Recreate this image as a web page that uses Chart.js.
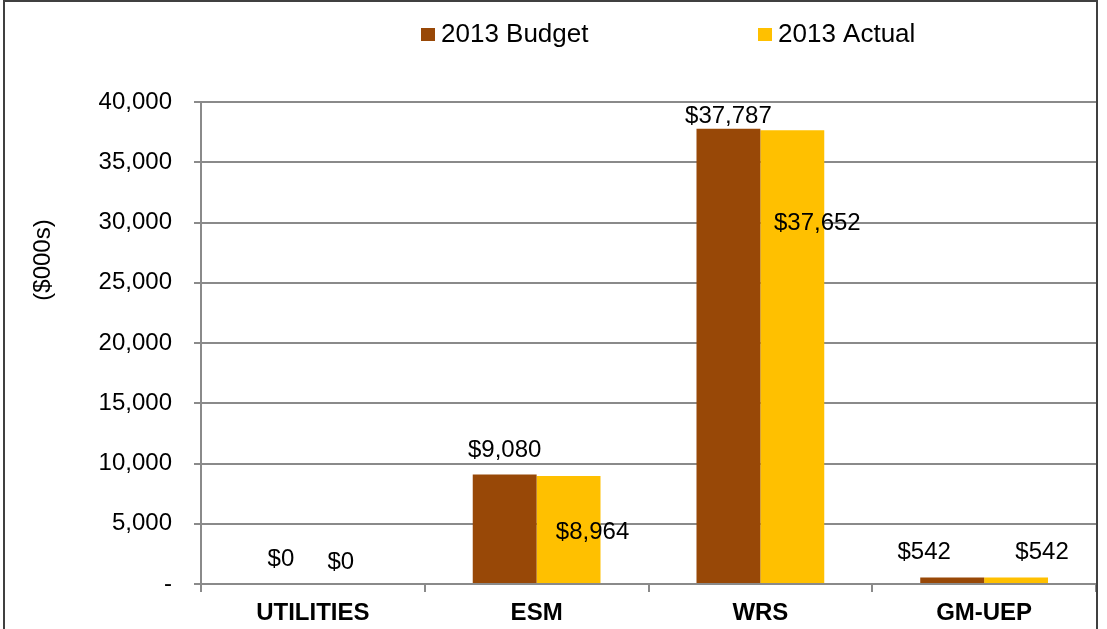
<!DOCTYPE html>
<html>
<head>
<meta charset="utf-8">
<script src="https://cdn.jsdelivr.net/npm/chart.js@4/dist/chart.umd.min.js"></script>
<style>
  html, body { margin: 0; padding: 0; background: #fff; }
  #wrap { width: 1107px; height: 629px; }
</style>
</head>
<body>
<div id="wrap"><canvas id="chart" width="1107" height="629"></canvas></div>
<script>
// chart values
var categories = ['UTILITIES', 'ESM', 'WRS', 'GM-UEP'];
var budget2013 = [0, 9080, 37787, 542];
var actual2013 = [0, 8964, 37652, 542];
var yTicks = [0, 5000, 10000, 15000, 20000, 25000, 30000, 35000, 40000];

// where each value label sits, relative to the top centre of its bar
var budgetLabelShift = [[0, -25], [0, -24], [0, -12], [-28, -25]];
var actualLabelShift = [[-4, -22], [24, 56], [25, 93], [26, -25]];

var FONT = "'Liberation Sans', Arial, sans-serif";
var GRID = '#8a8a8a';

function money(v) {
    return '$' + v.toLocaleString('en-US');
}

// value labels
var valueLabels = {
    id: 'valueLabels',
    afterDatasetsDraw: function(chart) {
        var ctx = chart.ctx;
        var shifts = [budgetLabelShift, actualLabelShift];
        ctx.save();
        ctx.font = '24px ' + FONT;
        ctx.fillStyle = '#000';
        ctx.textAlign = 'center';
        ctx.textBaseline = 'middle';
        chart.data.datasets.forEach(function(ds, i) {
            chart.getDatasetMeta(i).data.forEach(function(bar, j) {
                var s = shifts[i][j];
                ctx.fillText(money(ds.data[j]), bar.x + s[0], bar.y + s[1]);
            });
        });
        ctx.restore();
    }
};

// legend, y title and outer frame
var decorations = {
    id: 'decorations',
    afterDraw: function(chart) {
        var ctx = chart.ctx;
        ctx.save();

        // legend
        var items = [{ x: 421 }, { x: 758 }];
        ctx.font = '26px ' + FONT;
        ctx.textBaseline = 'middle';
        ctx.textAlign = 'left';
        chart.data.datasets.forEach(function(ds, i) {
            var x = items[i].x;
            ctx.fillStyle = ds.backgroundColor;
            ctx.fillRect(x, 28, 14, 13);
            ctx.fillStyle = '#000';
            ctx.fillText(ds.label, x + 20, 35);
        });

        // y axis title
        ctx.translate(43, 260);
        ctx.rotate(-Math.PI / 2);
        ctx.font = '24px ' + FONT;
        ctx.textAlign = 'center';
        ctx.fillText('($000s)', 0, 0);
        ctx.setTransform(1, 0, 0, 1, 0, 0);

        // frame
        ctx.strokeStyle = '#404040';
        ctx.lineWidth = 2;
        ctx.beginPath();
        ctx.moveTo(4, 629);
        ctx.lineTo(4, 1);
        ctx.lineTo(1097, 1);
        ctx.lineTo(1097, 629);
        ctx.stroke();
        ctx.restore();
    }
};

new Chart(document.getElementById('chart'), {
    type: 'bar',
    data: {
        labels: categories,
        datasets: [{
            label: '2013 Budget',
            data: budget2013,
            backgroundColor: '#984807'
        }, {
            label: '2013 Actual',
            data: actual2013,
            backgroundColor: '#FFC000'
        }]
    },
    options: {
        responsive: false,
        animation: false,
        datasets: {
            bar: { categoryPercentage: 0.571, barPercentage: 1 }
        },
        layout: {
            padding: { top: 102, right: 11, left: 0, bottom: 0 }
        },
        plugins: {
            legend: { display: false },
            tooltip: { enabled: false }
        },
        scales: {
            x: {
                grid: {
                    display: true,
                    drawOnChartArea: false,
                    drawTicks: true,
                    tickLength: 8,
                    color: GRID,
                    lineWidth: 2
                },
                border: { display: true, color: GRID, width: 2 },
                ticks: {
                    font: { family: FONT, size: 24, weight: 'bold' },
                    color: '#000',
                    padding: 7
                },
                afterFit: function(scale) { scale.height = 45; }
            },
            y: {
                min: 0,
                max: 40000,
                afterBuildTicks: function(scale) {
                    scale.ticks = yTicks.map(function(v) { return { value: v }; });
                },
                grid: {
                    color: GRID,
                    lineWidth: 2,
                    drawTicks: true,
                    tickLength: 7
                },
                border: { display: true, color: GRID, width: 2 },
                ticks: {
                    font: { family: FONT, size: 24 },
                    color: '#000',
                    padding: 22,
                    callback: function(v) {
                        return v === 0 ? '-' : v.toLocaleString('en-US');
                    }
                },
                afterFit: function(scale) { scale.width = 201; }
            }
        }
    },
    plugins: [valueLabels, decorations]
});
</script>
</body>
</html>
